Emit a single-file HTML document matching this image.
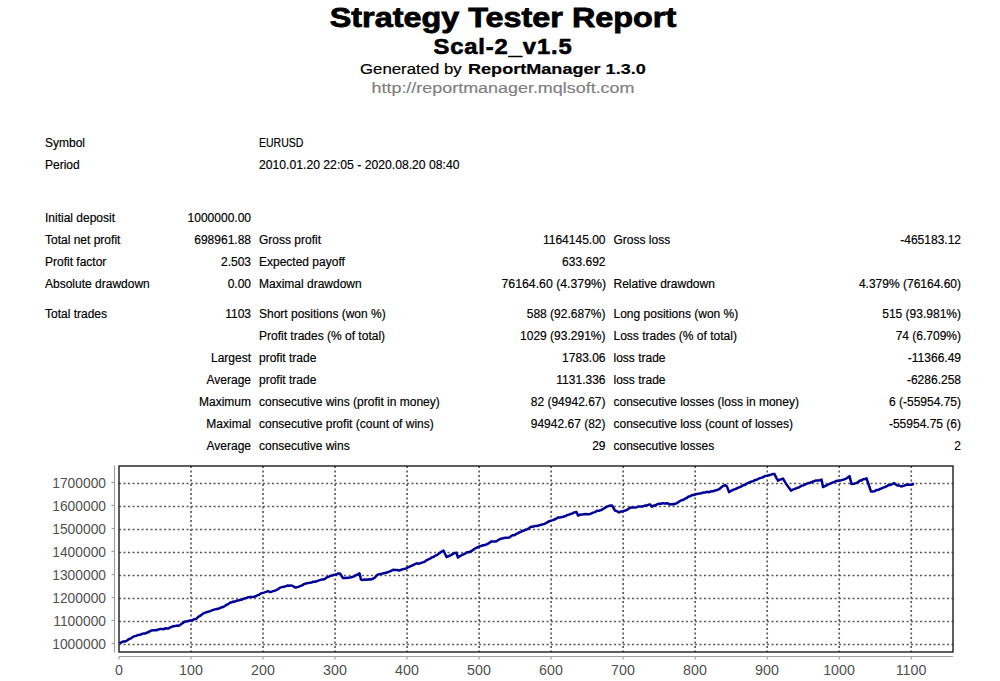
<!DOCTYPE html>
<html><head><meta charset="utf-8"><style>
html,body{margin:0;padding:0;background:#fff;width:1000px;height:681px;overflow:hidden;position:relative}
.t{position:absolute;white-space:pre;font-family:"Liberation Sans",sans-serif;color:#000;-webkit-text-stroke:0.18px currentColor}
</style></head><body>
<div class="t" style="left:203.00px;width:600px;text-align:center;top:2.83px;font-size:28.2px;line-height:28.2px;font-weight:bold;transform:scaleX(1.148);transform-origin:center 0;"><span style="-webkit-text-stroke:0.8px #000">Strategy Tester Report</span></div>
<div class="t" style="left:203.00px;width:600px;text-align:center;top:36.57px;font-size:21.3px;line-height:21.3px;font-weight:bold;transform:scaleX(1.115);transform-origin:center 0;"><span style="-webkit-text-stroke:0.6px #000;letter-spacing:0.8px">Scal-2_v1.5</span></div>
<div class="t" style="left:360.20px;top:61.33px;font-size:15.2px;line-height:15.2px;transform:scaleX(1.105);transform-origin:left 0;">Generated by</div>
<div class="t" style="left:468.00px;top:61.33px;font-size:15.2px;line-height:15.2px;transform:scaleX(1.19);transform-origin:left 0;"><b>ReportManager 1.3.0</b></div>
<div class="t" style="left:203.00px;width:600px;text-align:center;top:79.73px;font-size:15.2px;line-height:15.2px;color:#808080;transform:scaleX(1.18);transform-origin:center 0;">http://reportmanager.mqlsoft.com</div>
<div class="t" style="left:45.00px;top:137.14px;font-size:12px;line-height:12px;">Symbol</div>
<div class="t" style="left:259.00px;top:137.14px;font-size:12px;line-height:12px;transform:scaleX(0.877);transform-origin:left 0;">EURUSD</div>
<div class="t" style="left:45.00px;top:159.04px;font-size:12px;line-height:12px;">Period</div>
<div class="t" style="left:259.00px;top:159.04px;font-size:12px;line-height:12px;transform:scaleX(1.015);transform-origin:left 0;">2010.01.20 22:05 - 2020.08.20 08:40</div>
<div class="t" style="left:45.00px;top:212.04px;font-size:12px;line-height:12px;">Initial deposit</div>
<div class="t" style="left:-349.00px;width:600px;text-align:right;top:212.04px;font-size:12px;line-height:12px;">1000000.00</div>
<div class="t" style="left:45.00px;top:234.04px;font-size:12px;line-height:12px;">Total net profit</div>
<div class="t" style="left:-349.00px;width:600px;text-align:right;top:234.04px;font-size:12px;line-height:12px;">698961.88</div>
<div class="t" style="left:259.00px;top:234.04px;font-size:12px;line-height:12px;">Gross profit</div>
<div class="t" style="left:5.50px;width:600px;text-align:right;top:234.04px;font-size:12px;line-height:12px;">1164145.00</div>
<div class="t" style="left:613.50px;top:234.04px;font-size:12px;line-height:12px;">Gross loss</div>
<div class="t" style="left:361.00px;width:600px;text-align:right;top:234.04px;font-size:12px;line-height:12px;">-465183.12</div>
<div class="t" style="left:45.00px;top:255.84px;font-size:12px;line-height:12px;">Profit factor</div>
<div class="t" style="left:-349.00px;width:600px;text-align:right;top:255.84px;font-size:12px;line-height:12px;">2.503</div>
<div class="t" style="left:259.00px;top:255.84px;font-size:12px;line-height:12px;">Expected payoff</div>
<div class="t" style="left:5.50px;width:600px;text-align:right;top:255.84px;font-size:12px;line-height:12px;">633.692</div>
<div class="t" style="left:45.00px;top:277.84px;font-size:12px;line-height:12px;">Absolute drawdown</div>
<div class="t" style="left:-349.00px;width:600px;text-align:right;top:277.84px;font-size:12px;line-height:12px;">0.00</div>
<div class="t" style="left:259.00px;top:277.84px;font-size:12px;line-height:12px;">Maximal drawdown</div>
<div class="t" style="left:5.50px;width:600px;text-align:right;top:277.84px;font-size:12px;line-height:12px;transform:scaleX(1.024);transform-origin:right 0;">76164.60 (4.379%)</div>
<div class="t" style="left:613.50px;top:277.84px;font-size:12px;line-height:12px;">Relative drawdown</div>
<div class="t" style="left:361.00px;width:600px;text-align:right;top:277.84px;font-size:12px;line-height:12px;">4.379% (76164.60)</div>
<div class="t" style="left:45.00px;top:308.24px;font-size:12px;line-height:12px;">Total trades</div>
<div class="t" style="left:-349.00px;width:600px;text-align:right;top:308.24px;font-size:12px;line-height:12px;">1103</div>
<div class="t" style="left:259.00px;top:308.24px;font-size:12px;line-height:12px;">Short positions (won %)</div>
<div class="t" style="left:5.50px;width:600px;text-align:right;top:308.24px;font-size:12px;line-height:12px;">588 (92.687%)</div>
<div class="t" style="left:613.50px;top:308.24px;font-size:12px;line-height:12px;">Long positions (won %)</div>
<div class="t" style="left:361.00px;width:600px;text-align:right;top:308.24px;font-size:12px;line-height:12px;">515 (93.981%)</div>
<div class="t" style="left:259.00px;top:330.04px;font-size:12px;line-height:12px;">Profit trades (% of total)</div>
<div class="t" style="left:5.50px;width:600px;text-align:right;top:330.04px;font-size:12px;line-height:12px;">1029 (93.291%)</div>
<div class="t" style="left:613.50px;top:330.04px;font-size:12px;line-height:12px;">Loss trades (% of total)</div>
<div class="t" style="left:361.00px;width:600px;text-align:right;top:330.04px;font-size:12px;line-height:12px;">74 (6.709%)</div>
<div class="t" style="left:-349.00px;width:600px;text-align:right;top:352.14px;font-size:12px;line-height:12px;">Largest</div>
<div class="t" style="left:259.00px;top:352.14px;font-size:12px;line-height:12px;">profit trade</div>
<div class="t" style="left:5.50px;width:600px;text-align:right;top:352.14px;font-size:12px;line-height:12px;">1783.06</div>
<div class="t" style="left:613.50px;top:352.14px;font-size:12px;line-height:12px;">loss trade</div>
<div class="t" style="left:361.00px;width:600px;text-align:right;top:352.14px;font-size:12px;line-height:12px;">-11366.49</div>
<div class="t" style="left:-349.00px;width:600px;text-align:right;top:374.14px;font-size:12px;line-height:12px;">Average</div>
<div class="t" style="left:259.00px;top:374.14px;font-size:12px;line-height:12px;">profit trade</div>
<div class="t" style="left:5.50px;width:600px;text-align:right;top:374.14px;font-size:12px;line-height:12px;">1131.336</div>
<div class="t" style="left:613.50px;top:374.14px;font-size:12px;line-height:12px;">loss trade</div>
<div class="t" style="left:361.00px;width:600px;text-align:right;top:374.14px;font-size:12px;line-height:12px;">-6286.258</div>
<div class="t" style="left:-349.00px;width:600px;text-align:right;top:396.24px;font-size:12px;line-height:12px;">Maximum</div>
<div class="t" style="left:259.00px;top:396.24px;font-size:12px;line-height:12px;">consecutive wins (profit in money)</div>
<div class="t" style="left:5.50px;width:600px;text-align:right;top:396.24px;font-size:12px;line-height:12px;">82 (94942.67)</div>
<div class="t" style="left:613.50px;top:396.24px;font-size:12px;line-height:12px;">consecutive losses (loss in money)</div>
<div class="t" style="left:361.00px;width:600px;text-align:right;top:396.24px;font-size:12px;line-height:12px;">6 (-55954.75)</div>
<div class="t" style="left:-349.00px;width:600px;text-align:right;top:418.24px;font-size:12px;line-height:12px;">Maximal</div>
<div class="t" style="left:259.00px;top:418.24px;font-size:12px;line-height:12px;">consecutive profit (count of wins)</div>
<div class="t" style="left:5.50px;width:600px;text-align:right;top:418.24px;font-size:12px;line-height:12px;">94942.67 (82)</div>
<div class="t" style="left:613.50px;top:418.24px;font-size:12px;line-height:12px;">consecutive loss (count of losses)</div>
<div class="t" style="left:361.00px;width:600px;text-align:right;top:418.24px;font-size:12px;line-height:12px;">-55954.75 (6)</div>
<div class="t" style="left:-349.00px;width:600px;text-align:right;top:440.04px;font-size:12px;line-height:12px;">Average</div>
<div class="t" style="left:259.00px;top:440.04px;font-size:12px;line-height:12px;">consecutive wins</div>
<div class="t" style="left:5.50px;width:600px;text-align:right;top:440.04px;font-size:12px;line-height:12px;">29</div>
<div class="t" style="left:613.50px;top:440.04px;font-size:12px;line-height:12px;">consecutive losses</div>
<div class="t" style="left:361.00px;width:600px;text-align:right;top:440.04px;font-size:12px;line-height:12px;">2</div>
<svg width="1000" height="681" style="position:absolute;left:0;top:0">
<line x1="119" y1="483.5" x2="953" y2="483.5" stroke="#5c5c5c" stroke-width="1.7" stroke-dasharray="2.1 2.4"/>
<line x1="119" y1="506.5" x2="953" y2="506.5" stroke="#5c5c5c" stroke-width="1.7" stroke-dasharray="2.1 2.4"/>
<line x1="119" y1="529.5" x2="953" y2="529.5" stroke="#5c5c5c" stroke-width="1.7" stroke-dasharray="2.1 2.4"/>
<line x1="119" y1="552.5" x2="953" y2="552.5" stroke="#5c5c5c" stroke-width="1.7" stroke-dasharray="2.1 2.4"/>
<line x1="119" y1="575.5" x2="953" y2="575.5" stroke="#5c5c5c" stroke-width="1.7" stroke-dasharray="2.1 2.4"/>
<line x1="119" y1="598.5" x2="953" y2="598.5" stroke="#5c5c5c" stroke-width="1.7" stroke-dasharray="2.1 2.4"/>
<line x1="119" y1="621.5" x2="953" y2="621.5" stroke="#5c5c5c" stroke-width="1.7" stroke-dasharray="2.1 2.4"/>
<line x1="119" y1="644.5" x2="953" y2="644.5" stroke="#5c5c5c" stroke-width="1.7" stroke-dasharray="2.1 2.4"/>
<line x1="191.02" y1="466" x2="191.02" y2="652" stroke="#5c5c5c" stroke-width="1.7" stroke-dasharray="2.1 2.4"/>
<line x1="263.04" y1="466" x2="263.04" y2="652" stroke="#5c5c5c" stroke-width="1.7" stroke-dasharray="2.1 2.4"/>
<line x1="335.06" y1="466" x2="335.06" y2="652" stroke="#5c5c5c" stroke-width="1.7" stroke-dasharray="2.1 2.4"/>
<line x1="407.08" y1="466" x2="407.08" y2="652" stroke="#5c5c5c" stroke-width="1.7" stroke-dasharray="2.1 2.4"/>
<line x1="479.10" y1="466" x2="479.10" y2="652" stroke="#5c5c5c" stroke-width="1.7" stroke-dasharray="2.1 2.4"/>
<line x1="551.12" y1="466" x2="551.12" y2="652" stroke="#5c5c5c" stroke-width="1.7" stroke-dasharray="2.1 2.4"/>
<line x1="623.14" y1="466" x2="623.14" y2="652" stroke="#5c5c5c" stroke-width="1.7" stroke-dasharray="2.1 2.4"/>
<line x1="695.16" y1="466" x2="695.16" y2="652" stroke="#5c5c5c" stroke-width="1.7" stroke-dasharray="2.1 2.4"/>
<line x1="767.18" y1="466" x2="767.18" y2="652" stroke="#5c5c5c" stroke-width="1.7" stroke-dasharray="2.1 2.4"/>
<line x1="839.20" y1="466" x2="839.20" y2="652" stroke="#5c5c5c" stroke-width="1.7" stroke-dasharray="2.1 2.4"/>
<line x1="911.22" y1="466" x2="911.22" y2="652" stroke="#5c5c5c" stroke-width="1.7" stroke-dasharray="2.1 2.4"/>
<rect x="119" y="466" width="834" height="186" fill="none" stroke="#1c1c1c" stroke-width="1.4"/>
<line x1="114.5" y1="465.5" x2="114.5" y2="652.5" stroke="#a0a0a0" stroke-width="1.2"/>
<line x1="119" y1="656.5" x2="953" y2="656.5" stroke="#a0a0a0" stroke-width="1.2"/>
<line x1="111.5" y1="482.5" x2="114.5" y2="482.5" stroke="#a0a0a0" stroke-width="1.2"/>
<line x1="111.5" y1="505.5" x2="114.5" y2="505.5" stroke="#a0a0a0" stroke-width="1.2"/>
<line x1="111.5" y1="528.5" x2="114.5" y2="528.5" stroke="#a0a0a0" stroke-width="1.2"/>
<line x1="111.5" y1="551.5" x2="114.5" y2="551.5" stroke="#a0a0a0" stroke-width="1.2"/>
<line x1="111.5" y1="574.5" x2="114.5" y2="574.5" stroke="#a0a0a0" stroke-width="1.2"/>
<line x1="111.5" y1="597.5" x2="114.5" y2="597.5" stroke="#a0a0a0" stroke-width="1.2"/>
<line x1="111.5" y1="620.5" x2="114.5" y2="620.5" stroke="#a0a0a0" stroke-width="1.2"/>
<line x1="111.5" y1="643.5" x2="114.5" y2="643.5" stroke="#a0a0a0" stroke-width="1.2"/>
<line x1="119.00" y1="656.5" x2="119.00" y2="659.5" stroke="#a0a0a0" stroke-width="1.2"/>
<line x1="191.02" y1="656.5" x2="191.02" y2="659.5" stroke="#a0a0a0" stroke-width="1.2"/>
<line x1="263.04" y1="656.5" x2="263.04" y2="659.5" stroke="#a0a0a0" stroke-width="1.2"/>
<line x1="335.06" y1="656.5" x2="335.06" y2="659.5" stroke="#a0a0a0" stroke-width="1.2"/>
<line x1="407.08" y1="656.5" x2="407.08" y2="659.5" stroke="#a0a0a0" stroke-width="1.2"/>
<line x1="479.10" y1="656.5" x2="479.10" y2="659.5" stroke="#a0a0a0" stroke-width="1.2"/>
<line x1="551.12" y1="656.5" x2="551.12" y2="659.5" stroke="#a0a0a0" stroke-width="1.2"/>
<line x1="623.14" y1="656.5" x2="623.14" y2="659.5" stroke="#a0a0a0" stroke-width="1.2"/>
<line x1="695.16" y1="656.5" x2="695.16" y2="659.5" stroke="#a0a0a0" stroke-width="1.2"/>
<line x1="767.18" y1="656.5" x2="767.18" y2="659.5" stroke="#a0a0a0" stroke-width="1.2"/>
<line x1="839.20" y1="656.5" x2="839.20" y2="659.5" stroke="#a0a0a0" stroke-width="1.2"/>
<line x1="911.22" y1="656.5" x2="911.22" y2="659.5" stroke="#a0a0a0" stroke-width="1.2"/>
<path d="M119.5,643.1 L121.4,642.3 L123.2,641.5 L125.1,641.4 L127.0,640.6 L128.6,639.3 L130.2,638.8 L131.8,637.8 L133.4,636.6 L135.0,636.1 L136.7,635.7 L138.3,634.9 L140.0,634.8 L141.7,634.0 L143.3,633.6 L145.0,633.6 L146.7,632.7 L148.3,632.2 L150.0,631.1 L151.7,630.4 L153.3,630.2 L155.0,630.2 L156.7,630.2 L158.3,629.5 L160.0,629.1 L161.8,628.9 L163.5,629.3 L165.2,628.3 L167.0,628.6 L168.6,628.4 L170.2,627.4 L171.8,626.8 L173.4,626.3 L175.0,626.1 L176.7,625.6 L178.3,625.7 L180.0,625.1 L181.7,623.6 L183.3,622.8 L185.0,621.6 L187.0,621.4 L189.0,620.8 L191.0,620.6 L192.7,620.1 L194.3,619.2 L196.0,619.1 L197.8,617.3 L199.5,616.1 L201.2,615.1 L203.0,613.6 L204.8,612.9 L206.5,612.2 L208.2,611.8 L210.0,611.1 L212.0,610.4 L214.0,609.6 L216.0,609.1 L217.8,608.9 L219.5,608.3 L221.2,607.4 L223.0,607.1 L224.8,606.0 L226.5,604.9 L228.2,604.1 L230.0,602.6 L231.6,602.4 L233.2,601.6 L234.8,601.8 L236.4,600.7 L238.0,600.6 L239.7,600.0 L241.3,599.8 L243.0,599.1 L244.8,598.3 L246.5,598.1 L248.2,597.2 L250.0,597.1 L252.0,597.1 L254.0,596.8 L255.6,596.3 L257.2,595.4 L258.8,594.9 L260.4,593.7 L262.0,593.1 L264.0,592.6 L266.0,591.9 L268.0,591.1 L270.0,592.1 L271.7,591.7 L273.3,591.1 L275.0,590.6 L276.7,589.9 L278.3,589.0 L280.0,587.6 L282.0,587.1 L284.0,586.7 L286.0,586.1 L287.7,585.5 L289.3,585.8 L291.0,585.4 L293.0,586.1 L295.0,587.6 L296.7,587.2 L298.3,587.0 L300.0,586.1 L302.0,585.4 L304.0,584.1 L306.0,583.4 L308.0,583.1 L309.8,582.7 L311.5,582.6 L313.2,581.7 L315.0,581.8 L316.6,581.3 L318.2,580.6 L319.8,580.1 L321.4,579.6 L323.0,579.6 L325.0,578.8 L327.0,577.3 L329.0,576.6 L331.0,575.7 L333.0,575.2 L335.0,574.6 L336.7,574.5 L338.3,573.4 L340.0,573.4 L343.0,578.1 L346.0,578.1 L348.0,577.7 L350.0,577.5 L352.0,577.1 L354.0,576.4 L356.0,575.1 L357.8,574.5 L359.5,573.4 L361.0,579.6 L362.7,580.0 L364.3,579.5 L366.0,579.8 L367.8,579.5 L369.5,579.2 L371.2,579.4 L373.0,578.8 L375.0,577.4 L377.0,575.1 L378.6,574.4 L380.2,574.0 L381.8,573.7 L383.4,573.3 L385.0,573.1 L386.7,572.5 L388.3,572.0 L390.0,571.4 L393.0,569.8 L395.0,569.9 L397.0,569.9 L399.0,570.6 L400.6,570.0 L402.2,569.4 L403.8,569.0 L405.4,568.8 L407.0,567.8 L408.6,567.2 L410.2,566.3 L411.8,565.7 L413.4,565.0 L415.0,564.1 L416.8,563.3 L418.5,563.7 L420.2,563.2 L422.0,562.6 L423.6,562.1 L425.2,561.3 L426.8,560.1 L428.4,559.3 L430.0,558.6 L431.8,557.4 L433.5,557.0 L435.2,555.6 L437.0,555.1 L438.6,553.6 L440.2,552.6 L441.9,551.4 L443.5,550.6 L446.5,557.1 L448.8,556.0 L451.0,555.1 L452.8,553.9 L454.7,553.1 L456.5,552.8 L458.0,557.6 L459.8,556.3 L461.5,555.2 L463.2,554.5 L465.0,553.6 L467.0,552.3 L469.0,552.3 L471.0,551.1 L472.6,550.3 L474.2,549.0 L475.8,548.2 L477.4,547.4 L479.0,546.6 L481.0,546.0 L483.0,545.3 L485.0,545.1 L487.0,544.2 L489.0,543.2 L491.0,541.6 L492.7,541.6 L494.3,541.6 L496.0,541.6 L498.0,540.2 L500.0,539.1 L502.0,538.4 L504.0,538.1 L506.0,537.8 L508.0,537.8 L509.6,537.4 L511.2,536.0 L512.8,535.2 L514.4,535.2 L516.0,534.1 L517.6,533.4 L519.2,532.4 L520.8,532.0 L522.4,530.9 L524.0,530.6 L525.8,529.7 L527.5,529.1 L529.2,528.1 L531.0,526.8 L532.8,526.7 L534.5,526.1 L536.2,525.9 L538.0,525.8 L539.6,525.0 L541.2,525.0 L542.8,524.2 L544.4,523.9 L546.0,523.1 L547.7,522.1 L549.3,521.2 L551.0,520.6 L552.8,520.1 L554.5,519.5 L556.2,518.7 L558.0,517.6 L560.0,517.5 L562.0,517.1 L564.0,516.4 L565.6,516.1 L567.2,515.0 L568.8,514.7 L570.4,514.0 L572.0,513.6 L574.2,512.4 L576.5,512.1 L578.0,515.6 L580.0,514.7 L582.0,514.6 L583.8,514.2 L585.6,514.0 L587.4,514.2 L589.2,514.2 L591.0,513.6 L593.0,512.6 L595.0,512.1 L597.0,510.8 L599.0,510.7 L601.0,510.1 L603.0,509.1 L605.0,507.7 L607.0,506.6 L608.7,505.9 L610.3,505.6 L612.0,505.4 L615.0,510.6 L617.0,511.2 L619.0,512.4 L621.0,511.5 L623.0,511.3 L625.0,510.6 L626.7,510.0 L628.3,509.0 L630.0,507.8 L631.8,507.6 L633.5,507.6 L635.2,507.5 L637.0,507.1 L638.6,506.4 L640.2,506.6 L641.8,506.6 L643.4,506.2 L645.0,505.6 L646.7,505.4 L648.3,504.8 L650.0,504.4 L652.0,506.6 L653.7,505.6 L655.3,505.4 L657.0,504.4 L659.0,503.8 L661.0,503.8 L663.0,503.1 L664.7,503.6 L666.3,503.2 L668.0,503.4 L670.0,504.6 L671.8,504.1 L673.5,504.3 L675.2,503.7 L677.0,503.1 L678.6,501.9 L680.2,501.0 L681.8,500.1 L683.4,499.9 L685.0,498.6 L686.8,498.0 L688.5,496.5 L690.2,496.3 L692.0,495.1 L694.0,495.0 L696.0,494.1 L697.8,493.9 L699.6,493.4 L701.4,493.2 L703.2,492.6 L705.0,492.6 L706.7,491.8 L708.4,492.3 L710.1,491.7 L711.9,491.2 L713.6,491.2 L715.3,490.4 L717.0,490.1 L718.6,489.4 L720.2,488.4 L721.8,486.8 L723.4,485.9 L725.0,485.1 L727.0,486.6 L729.0,492.1 L731.0,490.9 L733.0,489.9 L735.0,489.1 L736.7,488.5 L738.3,487.6 L740.0,487.1 L741.7,486.2 L743.3,485.1 L745.0,485.0 L746.7,483.6 L748.3,482.9 L750.0,482.1 L751.7,481.5 L753.3,481.1 L755.0,480.0 L756.7,479.8 L758.3,478.8 L760.0,478.1 L761.8,477.6 L763.5,477.0 L765.2,475.9 L767.0,475.8 L768.9,475.3 L770.8,474.7 L772.6,474.1 L774.5,474.1 L776.2,477.6 L778.0,480.6 L779.7,479.6 L781.3,479.2 L783.0,478.6 L786.0,483.6 L787.7,486.1 L789.3,488.3 L791.0,490.6 L792.7,489.7 L794.3,489.1 L796.0,488.4 L797.8,487.7 L799.6,487.1 L801.4,485.8 L803.2,485.4 L805.0,484.6 L806.8,483.7 L808.7,483.0 L810.5,482.7 L812.3,481.8 L814.2,481.2 L816.0,480.4 L817.8,480.4 L819.7,480.2 L821.5,479.6 L823.0,487.1 L824.8,486.2 L826.5,485.5 L828.2,484.5 L830.0,483.6 L832.0,482.8 L834.0,482.1 L836.0,481.1 L838.0,480.8 L840.0,480.6 L841.7,480.1 L843.3,479.6 L845.0,479.1 L847.2,478.0 L849.5,476.1 L851.5,484.1 L853.8,483.8 L856.0,483.1 L858.0,482.2 L860.0,480.6 L861.6,480.4 L863.2,479.3 L864.9,479.0 L866.5,478.4 L868.8,485.0 L871.0,491.6 L872.8,491.6 L874.5,491.2 L876.2,490.1 L878.0,490.1 L879.8,489.0 L881.5,488.5 L883.2,487.5 L885.0,487.1 L886.8,486.1 L888.6,485.1 L890.4,484.9 L892.2,484.2 L894.0,483.1 L896.0,484.6 L897.7,485.6 L899.3,485.5 L901.0,486.4 L902.8,486.1 L904.5,485.6 L906.2,484.7 L908.0,484.6 L910.0,484.7 L912.0,484.5 L914.0,483.8" fill="none" stroke="#000096" stroke-width="2.5" stroke-linejoin="round"/>
</svg>
<div class="t" style="left:-494.00px;width:600px;text-align:right;top:474.80px;font-size:15px;line-height:15px;color:#505050;transform:scaleX(0.92);transform-origin:right 0;"><span style="-webkit-text-stroke:0">1700000</span></div>
<div class="t" style="left:-494.00px;width:600px;text-align:right;top:497.80px;font-size:15px;line-height:15px;color:#505050;transform:scaleX(0.92);transform-origin:right 0;"><span style="-webkit-text-stroke:0">1600000</span></div>
<div class="t" style="left:-494.00px;width:600px;text-align:right;top:520.80px;font-size:15px;line-height:15px;color:#505050;transform:scaleX(0.92);transform-origin:right 0;"><span style="-webkit-text-stroke:0">1500000</span></div>
<div class="t" style="left:-494.00px;width:600px;text-align:right;top:543.80px;font-size:15px;line-height:15px;color:#505050;transform:scaleX(0.92);transform-origin:right 0;"><span style="-webkit-text-stroke:0">1400000</span></div>
<div class="t" style="left:-494.00px;width:600px;text-align:right;top:566.80px;font-size:15px;line-height:15px;color:#505050;transform:scaleX(0.92);transform-origin:right 0;"><span style="-webkit-text-stroke:0">1300000</span></div>
<div class="t" style="left:-494.00px;width:600px;text-align:right;top:589.80px;font-size:15px;line-height:15px;color:#505050;transform:scaleX(0.92);transform-origin:right 0;"><span style="-webkit-text-stroke:0">1200000</span></div>
<div class="t" style="left:-494.00px;width:600px;text-align:right;top:612.80px;font-size:15px;line-height:15px;color:#505050;transform:scaleX(0.92);transform-origin:right 0;"><span style="-webkit-text-stroke:0">1100000</span></div>
<div class="t" style="left:-494.00px;width:600px;text-align:right;top:635.80px;font-size:15px;line-height:15px;color:#505050;transform:scaleX(0.92);transform-origin:right 0;"><span style="-webkit-text-stroke:0">1000000</span></div>
<div class="t" style="left:59.00px;width:120px;text-align:center;top:662.30px;font-size:15px;line-height:15px;color:#505050;transform:scaleX(0.95);transform-origin:center 0;"><span style="-webkit-text-stroke:0">0</span></div>
<div class="t" style="left:131.02px;width:120px;text-align:center;top:662.30px;font-size:15px;line-height:15px;color:#505050;transform:scaleX(0.95);transform-origin:center 0;"><span style="-webkit-text-stroke:0">100</span></div>
<div class="t" style="left:203.04px;width:120px;text-align:center;top:662.30px;font-size:15px;line-height:15px;color:#505050;transform:scaleX(0.95);transform-origin:center 0;"><span style="-webkit-text-stroke:0">200</span></div>
<div class="t" style="left:275.06px;width:120px;text-align:center;top:662.30px;font-size:15px;line-height:15px;color:#505050;transform:scaleX(0.95);transform-origin:center 0;"><span style="-webkit-text-stroke:0">300</span></div>
<div class="t" style="left:347.08px;width:120px;text-align:center;top:662.30px;font-size:15px;line-height:15px;color:#505050;transform:scaleX(0.95);transform-origin:center 0;"><span style="-webkit-text-stroke:0">400</span></div>
<div class="t" style="left:419.10px;width:120px;text-align:center;top:662.30px;font-size:15px;line-height:15px;color:#505050;transform:scaleX(0.95);transform-origin:center 0;"><span style="-webkit-text-stroke:0">500</span></div>
<div class="t" style="left:491.12px;width:120px;text-align:center;top:662.30px;font-size:15px;line-height:15px;color:#505050;transform:scaleX(0.95);transform-origin:center 0;"><span style="-webkit-text-stroke:0">600</span></div>
<div class="t" style="left:563.14px;width:120px;text-align:center;top:662.30px;font-size:15px;line-height:15px;color:#505050;transform:scaleX(0.95);transform-origin:center 0;"><span style="-webkit-text-stroke:0">700</span></div>
<div class="t" style="left:635.16px;width:120px;text-align:center;top:662.30px;font-size:15px;line-height:15px;color:#505050;transform:scaleX(0.95);transform-origin:center 0;"><span style="-webkit-text-stroke:0">800</span></div>
<div class="t" style="left:707.18px;width:120px;text-align:center;top:662.30px;font-size:15px;line-height:15px;color:#505050;transform:scaleX(0.95);transform-origin:center 0;"><span style="-webkit-text-stroke:0">900</span></div>
<div class="t" style="left:779.20px;width:120px;text-align:center;top:662.30px;font-size:15px;line-height:15px;color:#505050;transform:scaleX(0.95);transform-origin:center 0;"><span style="-webkit-text-stroke:0">1000</span></div>
<div class="t" style="left:851.22px;width:120px;text-align:center;top:662.30px;font-size:15px;line-height:15px;color:#505050;transform:scaleX(0.95);transform-origin:center 0;"><span style="-webkit-text-stroke:0">1100</span></div>
</body></html>
